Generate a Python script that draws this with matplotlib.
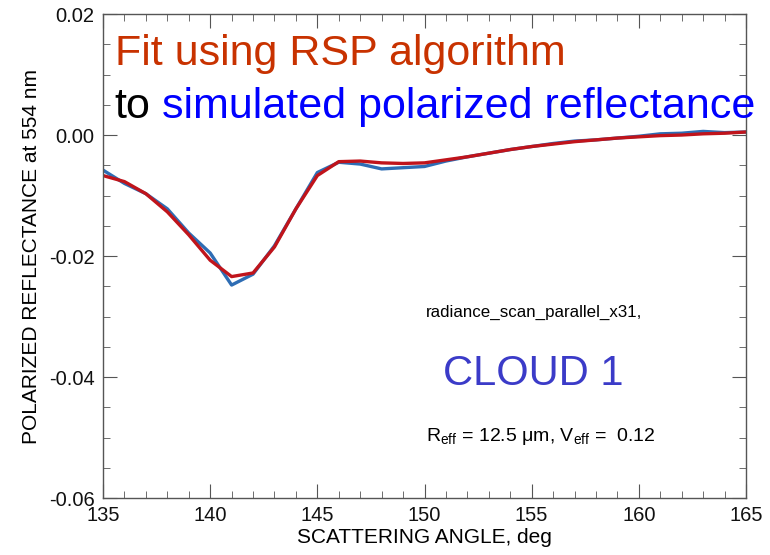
import matplotlib
matplotlib.use("Agg")
import matplotlib.pyplot as plt
from matplotlib.ticker import MultipleLocator

plt.rcParams['font.family'] = ['Liberation Sans', 'DejaVu Sans']

# scattering angle grid (31 angles, 1 deg step)
angles = list(range(135, 166))

# simulated polarized reflectance at 554 nm
simulated = [-0.0058, -0.0080, -0.0097, -0.0122, -0.0162, -0.0195, -0.0248, -0.0230,
             -0.0183, -0.0122, -0.0062, -0.0045, -0.0048, -0.0056, -0.0054, -0.0052,
             -0.0043, -0.0036, -0.0030, -0.0024, -0.0019, -0.0014, -0.0010, -0.0008,
             -0.0005, -0.0002, 0.0002, 0.0003, 0.0006, 0.0004, 0.0005]

# RSP algorithm fit
fitted = [-0.0067, -0.0077, -0.0097, -0.0127, -0.0165, -0.0207, -0.0234, -0.0228,
          -0.0185, -0.0122, -0.0067, -0.0044, -0.0043, -0.0046, -0.0047, -0.0046,
          -0.0041, -0.0036, -0.0030, -0.0024, -0.0019, -0.0015, -0.0011, -0.0008,
          -0.0005, -0.0003, -0.0001, 0.0000, 0.0002, 0.0003, 0.0005]

fig = plt.figure(figsize=(7.7, 5.55), dpi=100)
ax = fig.add_axes([0.1338, 0.1027, 0.835, 0.872])

ax.plot(angles, simulated, color='#2E6DB4', lw=2.4)
ax.plot(angles, fitted, color='#C0141B', lw=2.4)

ax.set_xlim(135, 165)
ax.set_ylim(-0.06, 0.02)
ax.xaxis.set_major_locator(MultipleLocator(5))
ax.xaxis.set_minor_locator(MultipleLocator(1))
ax.yaxis.set_major_locator(MultipleLocator(0.02))
ax.yaxis.set_minor_locator(MultipleLocator(0.005))
ax.yaxis.set_major_formatter(plt.FormatStrFormatter('%.2f'))

for s in ax.spines.values():
    s.set_color('#555555')
    s.set_linewidth(1.0)
ax.tick_params(which='both', direction='in', top=True, right=True,
               color='#555555', labelsize=14.5, labelcolor='#111111')
ax.tick_params(which='major', length=10, pad=6)
ax.tick_params(which='minor', length=5)

ax.set_xlabel('SCATTERING ANGLE, deg', fontsize=15, labelpad=2)
ax.set_ylabel('POLARIZED REFLECTANCE at 554 nm', fontsize=15, labelpad=6)

# headline
ax.text(0.018, 0.895, 'Fit using RSP algorithm', transform=ax.transAxes,
        fontsize=31, color='#C83200', va='baseline')
t = ax.text(0.018, 0.786, 'to', transform=ax.transAxes,
            fontsize=31, color='black', va='baseline')
ax.annotate(' simulated polarized reflectance', xy=(1, 0), xycoords=t,
            fontsize=31, color='#0000FF', va='bottom')

ax.text(0.502, 0.374, 'radiance_scan_parallel_x31,', transform=ax.transAxes,
        fontsize=12.2, color='black', va='baseline')
ax.text(0.529, 0.233, 'CLOUD 1', transform=ax.transAxes,
        fontsize=30, color='#3B3BC8', va='baseline')
ax.text(0.502, 0.118, r'R$_{\mathregular{eff}}$ = 12.5 μm, V$_{\mathregular{eff}}$ =  0.12',
        transform=ax.transAxes, fontsize=14, color='black', va='baseline')

fig.savefig('out.png', dpi=100)
